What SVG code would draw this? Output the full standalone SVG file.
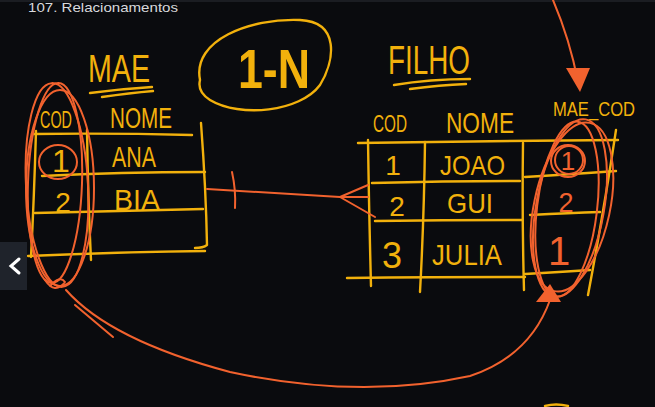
<svg xmlns="http://www.w3.org/2000/svg" width="655" height="407" viewBox="0 0 655 407">
<style>
.y{fill:none;stroke:#f2b10c;stroke-width:2.4;stroke-linecap:round;stroke-linejoin:round}
.yt{fill:#f2b10c;font-family:"Liberation Sans","DejaVu Sans",sans-serif}
.o{fill:none;stroke:#f2622e;stroke-width:2;stroke-linecap:round;stroke-linejoin:round}
.ot{fill:#f2622e;font-family:"Liberation Sans","DejaVu Sans",sans-serif}
</style>
<rect width="655" height="407" fill="#0a0b0e"/>
<rect width="655" height="2" fill="#1b1d22"/>
<text x="28" y="12" font-family="Liberation Sans, sans-serif" font-size="13" fill="#d8d9dc" textLength="150" lengthAdjust="spacingAndGlyphs">107. Relacionamentos</text>

<g id="title-mae">
<text class="yt" x="88" y="82" font-size="38" textLength="62" lengthAdjust="spacingAndGlyphs">MAE</text>
<path class="y" d="M90 93 Q120 89 152 87"/>
<path class="y" d="M102 97 Q130 93 153 91"/>
</g>

<g id="label-1n">
<path class="y" d="M200 80 C192 40 250 18 300 20 C340 22 335 60 320 85 C300 112 240 118 210 100 C202 95 198 88 200 80"/>
<text class="yt" x="238" y="88" font-size="56" font-weight="bold" textLength="72" lengthAdjust="spacingAndGlyphs">1-N</text>
</g>

<g id="title-filho">
<text class="yt" x="388" y="74" font-size="40" textLength="82" lengthAdjust="spacingAndGlyphs">FILHO</text>
<path class="y" d="M394 85 Q430 79 470 79"/>
<path class="y" d="M410 89 Q440 85 466 84"/>
</g>

<g id="table-mae">
<text class="yt" x="40" y="128" font-size="24" textLength="32" lengthAdjust="spacingAndGlyphs">COD</text>
<text class="yt" x="110" y="128" font-size="30" textLength="62" lengthAdjust="spacingAndGlyphs">NOME</text>
<path class="y" d="M32 134 Q110 133 192 135"/>
<path class="y" d="M42 176 Q120 172 205 172"/>
<path class="y" d="M35 213 Q120 211 203 209"/>
<path class="y" d="M28 256 Q120 252 205 251"/>
<path class="y" d="M36 131 Q34 200 31 257"/>
<path class="y" d="M87 130 Q88 200 91 260"/>
<path class="y" d="M201 123 Q206 190 207 245 Q203 248 195 248"/>
<text class="yt" x="61" y="172" font-size="32" text-anchor="middle">1</text>
<text class="yt" x="112" y="167" font-size="30" textLength="44" lengthAdjust="spacingAndGlyphs">ANA</text>
<text class="yt" x="63" y="212" font-size="28" text-anchor="middle">2</text>
<text class="yt" x="114" y="210" font-size="30" textLength="46" lengthAdjust="spacingAndGlyphs">BIA</text>
</g>

<g id="table-filho">
<text class="yt" x="373" y="132" font-size="24" textLength="34" lengthAdjust="spacingAndGlyphs">COD</text>
<text class="yt" x="446" y="133" font-size="30" textLength="68" lengthAdjust="spacingAndGlyphs">NOME</text>
<text class="yt" x="553" y="116" font-size="20" textLength="82" lengthAdjust="spacingAndGlyphs">MAE_COD</text>
<path class="y" d="M358 143 Q480 141 618 140"/>
<path class="y" d="M372 183 Q450 181 520 181"/>
<path class="y" d="M525 177 Q575 174 616 171"/>
<path class="y" d="M375 221 Q450 220 522 220"/>
<path class="y" d="M530 215 Q570 213 600 212"/>
<path class="y" d="M347 278 Q440 277 525 277"/>
<path class="y" d="M525 274 Q560 272 590 270"/>
<path class="y" d="M368 140 Q369 210 371 286"/>
<path class="y" d="M425 142 Q424 220 420 292"/>
<path class="y" d="M523 143 Q522 220 524 290"/>
<path class="y" d="M616 130 Q604 210 588 295"/>
<text class="yt" x="393" y="175" font-size="28" text-anchor="middle">1</text>
<text class="yt" x="440" y="175" font-size="28" textLength="65" lengthAdjust="spacingAndGlyphs">JOAO</text>
<text class="yt" x="397" y="216" font-size="28" text-anchor="middle">2</text>
<text class="yt" x="447" y="213" font-size="28" textLength="46" lengthAdjust="spacingAndGlyphs">GUI</text>
<text class="yt" x="392" y="268" font-size="36" text-anchor="middle">3</text>
<text class="yt" x="432" y="265" font-size="30" textLength="70" lengthAdjust="spacingAndGlyphs">JULIA</text>
<text class="ot" x="568" y="170" font-size="26" text-anchor="middle">1</text>
<text class="ot" x="566" y="212" font-size="27" text-anchor="middle">2</text>
<text class="ot" x="559" y="265" font-size="40" text-anchor="middle">1</text>
</g>

<g id="highlights">
<ellipse class="o" cx="57" cy="185" rx="31" ry="102" transform="rotate(-3 57 185)"/>
<ellipse class="o" cx="55" cy="183" rx="27" ry="100" transform="rotate(2 55 183)"/>
<ellipse class="o" cx="60" cy="188" rx="34" ry="98"/>
<path class="o" d="M45 280 Q55 295 65 282 Q60 275 50 286"/>
<ellipse class="o" cx="58" cy="162" rx="19" ry="17"/>
<ellipse class="o" cx="570" cy="208" rx="34" ry="90" transform="rotate(10 570 208)"/>
<ellipse class="o" cx="567" cy="209" rx="30" ry="88" transform="rotate(7 567 209)"/>
<ellipse class="o" cx="572" cy="207" rx="38" ry="86" transform="rotate(12 572 207)"/>
<ellipse class="o" cx="568" cy="161" rx="17" ry="16"/>
<ellipse class="o" cx="569" cy="160" rx="14" ry="14"/>
</g>

<g id="connectors">
<path class="o" d="M207 189 L340 197"/>
<path class="o" d="M232 172 Q236 190 235 208"/>
<path class="o" d="M368 185 L340 197 L375 217"/>
<path class="o" d="M340 197 L368 197"/>
<path class="o" d="M553 0 Q570 40 578 82"/>
<path d="M566 68 L590 68 L580 92 Z" fill="#f2622e"/>
<path class="o" d="M66 290 Q110 340 230 372 Q360 400 470 376 Q530 356 550 300"/>
<path class="o" d="M75 305 L113 337"/>
<path d="M550 284 L561 302 L536 302 Z" fill="#f2622e"/>
</g>

<path class="y" d="M545 406 Q556 403 568 406"/>
<g id="nav-button">
<rect x="0" y="242" width="27" height="48" fill="#1f232b"/>
<path d="M19 259 L11 266 L19 273" fill="none" stroke="#ffffff" stroke-width="3" stroke-linecap="round"/>
</g>
</svg>
